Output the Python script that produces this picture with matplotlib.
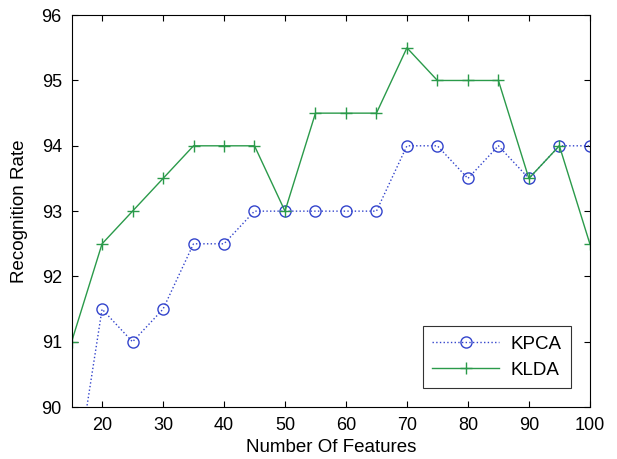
import matplotlib
matplotlib.use("Agg")
import matplotlib.pyplot as plt

plt.rcParams['font.family'] = ['Liberation Sans', 'DejaVu Sans']

features = [15, 20, 25, 30, 35, 40, 45, 50, 55, 60, 65, 70, 75, 80, 85, 90, 95, 100]
kpca = [88.5, 91.5, 91, 91.5, 92.5, 92.5, 93, 93, 93, 93, 93, 94, 94, 93.5, 94, 93.5, 94, 94]
klda = [91, 92.5, 93, 93.5, 94, 94, 94, 93, 94.5, 94.5, 94.5, 95.5, 95, 95, 95, 93.5, 94, 92.5]

fig = plt.figure(figsize=(6.17, 4.59), dpi=100)
ax = fig.add_axes([0.116, 0.113, 0.840, 0.854])

ax.plot(features, kpca, color='#3344cc', linestyle=':', marker='o', markersize=8,
        markerfacecolor='none', markeredgewidth=1.0, linewidth=1.0, label='KPCA')
ax.plot(features, klda, color='#2a9a4a', linestyle='-', marker='+', markersize=9,
        markeredgewidth=1.0, linewidth=1.0, label='KLDA')

ax.set_xlim(15, 100)
ax.set_ylim(90, 96)
ax.set_xticks(range(20, 101, 10))
ax.set_yticks(range(90, 97))
ax.tick_params(direction='in', top=True, right=True, labelsize=13, length=4)
ax.tick_params(axis='x', pad=7)
ax.tick_params(axis='y', pad=7)
ax.set_xlabel('Number Of Features', fontsize=13.5, labelpad=4)
ax.set_ylabel('Recognition Rate', fontsize=13.5, labelpad=10)

leg = ax.legend(loc='lower right', fontsize=13.5, fancybox=False, edgecolor='black',
                handlelength=3.6, borderaxespad=1.0, borderpad=0.5, handletextpad=0.6)
leg.get_frame().set_linewidth(0.8)

fig.savefig('out.png', dpi=100)
